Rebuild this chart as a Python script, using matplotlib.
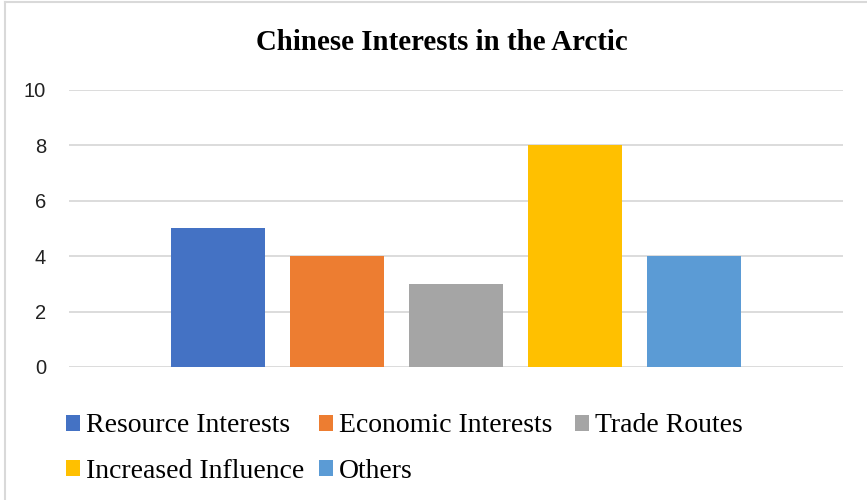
import matplotlib
matplotlib.use("Agg")
import matplotlib.pyplot as plt
from matplotlib.lines import Line2D

title = "Chinese Interests in the Arctic"
categories = ["Resource Interests", "Economic Interests", "Trade Routes",
              "Increased Influence", "Others"]
values = [5, 4, 3, 8, 4]
colors = ["#4472C4", "#ED7D31", "#A5A5A5", "#FFC000", "#5B9BD5"]
yticks = [0, 2, 4, 6, 8, 10]

fig = plt.figure(figsize=(8.67, 5.0), dpi=100)
ax = fig.add_axes([69/867, 1-367/500, (843-69)/867, (367-90)/500])

handles = []
for i, (c, v, col) in enumerate(zip(categories, values, colors)):
    h = ax.bar(i, v, width=94/119, color=col, label=c, zorder=3)
    handles.append(h)

ax.set_xlim(-149/119, 4 + 149/119)
ax.set_ylim(0, 10)
ax.set_yticks(yticks)
ax.set_yticklabels([str(t) for t in yticks], fontsize=14.5, family="Liberation Sans", color="#222222")
ax.set_xticks([])
ax.yaxis.grid(True, color="#D9D9D9", linewidth=1.3, zorder=0)
ax.tick_params(axis="y", length=0, pad=16.5)
for s in ax.spines.values():
    s.set_visible(False)

fig.text(442/867, 1-42/500, title, ha="center", va="center",
         fontsize=20.8, fontweight="bold", family="Liberation Serif")

# legend: three equal-width columns, rows read left-to-right
columns = [[0, 3], [1, 4], [2]]
col_x = [66, 319, 575]
for idxs, x in zip(columns, col_x):
    leg = fig.legend(handles=[handles[i] for i in idxs],
                     labels=[categories[i] for i in idxs], loc="upper left",
                     bbox_to_anchor=(x/867, 1-413.5/500), ncol=1, frameon=False,
                     prop={"family": "Liberation Serif", "size": 20},
                     handlelength=0.5, handleheight=0.5, handletextpad=0.22,
                     labelspacing=0.72, borderpad=0.0, borderaxespad=0.0)

# figure border (top and left visible)
fig.add_artist(Line2D([5/867, 1], [1-2/500, 1-2/500], color="#D9D9D9", lw=1.5,
                      transform=fig.transFigure))
fig.add_artist(Line2D([5/867, 5/867], [0, 1-2/500], color="#D9D9D9", lw=1.5,
                      transform=fig.transFigure))

fig.savefig("out.png", dpi=100)
